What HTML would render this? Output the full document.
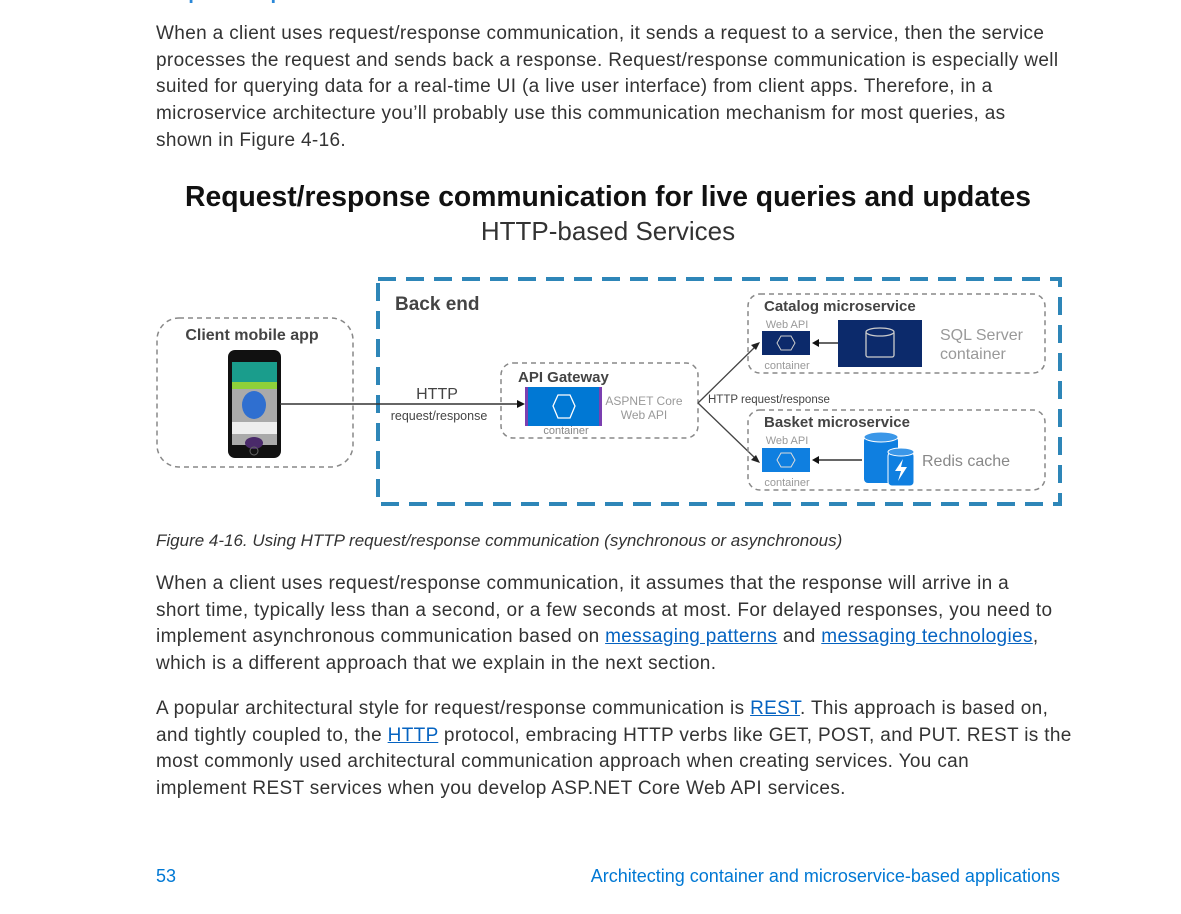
<!DOCTYPE html>
<html><head><meta charset="utf-8"><style>
body{margin:0;width:1181px;height:914px;background:#fff;position:relative;overflow:hidden;font-family:"Liberation Sans",sans-serif;color:#333}
.t{position:absolute;left:156px;font-size:19px;line-height:26.7px;white-space:nowrap;letter-spacing:0.35px}
a{color:#0563c1;text-decoration:underline}
.h{position:absolute;left:156px;top:-18px;font-size:20px;font-weight:bold;color:#2b88d8}
</style></head><body>
<div class="h">Request/response communication with HTTP and REST</div>
<div class="t" style="top:21px">When a client uses request/response communication, it sends a request to a service, then the service<br>processes the request and sends back a response. Request/response communication is especially well<br>suited for querying data for a real-time UI (a live user interface) from client apps. Therefore, in a<br>microservice architecture you’ll probably use this communication mechanism for most queries, as<br>shown in Figure 4-16.</div>

<svg style="position:absolute;left:0;top:0" width="1181" height="914">
<text x="608" y="206" text-anchor="middle" font-size="28.3" font-weight="bold" fill="#111" font-family="Liberation Sans">Request/response communication for live queries and updates</text>
<text x="608" y="240" text-anchor="middle" font-size="26" fill="#333" font-family="Liberation Sans">HTTP-based Services</text>
<rect x="378" y="279" width="682" height="225" fill="none" stroke="#2e86b8" stroke-width="4" stroke-dasharray="18,10"/>
<text x="395" y="310" font-size="19" font-weight="bold" fill="#444" font-family="Liberation Sans">Back end</text>
<rect x="157" y="318" width="196" height="149" rx="22" fill="none" stroke="#888" stroke-width="1.5" stroke-dasharray="5,4"/>
<text x="252" y="340" text-anchor="middle" font-size="16" font-weight="bold" fill="#444" font-family="Liberation Sans">Client mobile app</text>
<rect x="228" y="350" width="53" height="108" rx="7" fill="#111"/>
<rect x="232" y="362" width="45" height="83" fill="#aaa"/>
<rect x="232" y="362" width="45" height="20" fill="#1a9d8c"/>
<rect x="232" y="382" width="45" height="7" fill="#8fd13a"/>
<ellipse cx="254" cy="405" rx="12" ry="14" fill="#2f6fd0"/>
<rect x="232" y="422" width="45" height="12" fill="#eee"/>
<ellipse cx="254" cy="443" rx="9" ry="6" fill="#4a2a6a"/>
<circle cx="254" cy="451" r="4" fill="none" stroke="#666"/>
<line x1="280" y1="404" x2="518" y2="404" stroke="#333" stroke-width="1.5"/>
<polygon points="525,404 517,400 517,408" fill="#111"/>
<text x="437" y="399" text-anchor="middle" font-size="16" fill="#444" font-family="Liberation Sans">HTTP</text>
<text x="439" y="420" text-anchor="middle" font-size="12.5" fill="#444" font-family="Liberation Sans">request/response</text>
<rect x="501" y="363" width="197" height="75" rx="12" fill="none" stroke="#888" stroke-width="1.5" stroke-dasharray="5,4"/>
<text x="518" y="382" font-size="15" font-weight="bold" fill="#444" font-family="Liberation Sans">API Gateway</text>
<rect x="527" y="387" width="73" height="39" fill="#0078d4"/>
<rect x="525" y="387" width="3" height="39" fill="#7b3fb0"/><rect x="599" y="387" width="3" height="39" fill="#7b3fb0"/>
<polygon points="553,406 558,395 570,395 575,406 570,418 558,418" fill="none" stroke="#fff" stroke-width="1.3"/>
<text x="566" y="434" text-anchor="middle" font-size="11" fill="#888" font-family="Liberation Sans">container</text>
<text x="644" y="405" text-anchor="middle" font-size="12" fill="#999" font-family="Liberation Sans">ASPNET Core</text>
<text x="644" y="419" text-anchor="middle" font-size="12" fill="#999" font-family="Liberation Sans">Web API</text>
<line x1="698" y1="403" x2="756" y2="346" stroke="#444" stroke-width="1.3"/>
<polygon points="760,342 751,345 756,350" fill="#222"/>
<line x1="698" y1="403" x2="756" y2="459" stroke="#444" stroke-width="1.3"/>
<polygon points="760,463 751,460 756,455" fill="#222"/>
<text x="708" y="403" font-size="11.5" fill="#444" font-family="Liberation Sans">HTTP request/response</text>
<rect x="748" y="294" width="297" height="79" rx="12" fill="none" stroke="#888" stroke-width="1.5" stroke-dasharray="5,4"/>
<text x="764" y="311" font-size="15" font-weight="bold" fill="#444" font-family="Liberation Sans">Catalog microservice</text>
<text x="787" y="328" text-anchor="middle" font-size="11" fill="#999" font-family="Liberation Sans">Web API</text>
<rect x="762" y="331" width="48" height="24" fill="#0c2a6b"/>
<polygon points="777,343 781,336 791,336 795,343 791,350 781,350" fill="none" stroke="#ccc"/>
<text x="787" y="369" text-anchor="middle" font-size="11" fill="#999" font-family="Liberation Sans">container</text>
<line x1="838" y1="343" x2="818" y2="343" stroke="#333" stroke-width="1.5"/>
<polygon points="812,343 819,339 819,347" fill="#111"/>
<rect x="838" y="320" width="84" height="47" fill="#0c2a6b"/>
<rect x="866" y="331" width="28" height="26" rx="2" fill="none" stroke="#ccc" stroke-width="1.3"/>
<ellipse cx="880" cy="332" rx="14" ry="4" fill="#0c2a6b" stroke="#ccc" stroke-width="1.3"/>
<text x="940" y="340" font-size="16" fill="#999" font-family="Liberation Sans">SQL Server</text>
<text x="940" y="359" font-size="16" fill="#999" font-family="Liberation Sans">container</text>
<rect x="748" y="410" width="297" height="80" rx="12" fill="none" stroke="#888" stroke-width="1.5" stroke-dasharray="5,4"/>
<text x="764" y="427" font-size="15" font-weight="bold" fill="#444" font-family="Liberation Sans">Basket microservice</text>
<text x="787" y="444" text-anchor="middle" font-size="11" fill="#999" font-family="Liberation Sans">Web API</text>
<rect x="762" y="448" width="48" height="24" fill="#0f7fe0"/>
<polygon points="777,460 781,453 791,453 795,460 791,467 781,467" fill="none" stroke="#ddd"/>
<text x="787" y="486" text-anchor="middle" font-size="11" fill="#999" font-family="Liberation Sans">container</text>
<line x1="862" y1="460" x2="818" y2="460" stroke="#333" stroke-width="1.5"/>
<polygon points="812,460 819,456 819,464" fill="#111"/>
<rect x="864" y="437" width="34" height="46" rx="4" fill="#0f7fe0"/>
<ellipse cx="881" cy="437" rx="17" ry="5" fill="#3b97e8" stroke="#fff"/>
<rect x="888" y="452" width="26" height="34" rx="4" fill="#0f7fe0" stroke="#fff"/>
<ellipse cx="901" cy="452" rx="13" ry="4" fill="#3b97e8" stroke="#fff"/>
<polygon points="903,459 895,471 901,471 898,481 907,467 901,467" fill="#fff"/>
<text x="922" y="466" font-size="16" fill="#888" font-family="Liberation Sans">Redis cache</text>
</svg>

<div class="t" style="top:528px;font-size:17px;letter-spacing:0;font-style:italic">Figure 4-16. Using HTTP request/response communication (synchronous or asynchronous)</div>
<div class="t" style="top:571px">When a client uses request/response communication, it assumes that the response will arrive in a<br>short time, typically less than a second, or a few seconds at most. For delayed responses, you need to<br>implement asynchronous communication based on <a>messaging patterns</a> and <a>messaging technologies</a>,<br>which is a different approach that we explain in the next section.</div>
<div class="t" style="top:696px">A popular architectural style for request/response communication is <a>REST</a>. This approach is based on,<br>and tightly coupled to, the <a>HTTP</a> protocol, embracing HTTP verbs like GET, POST, and PUT. REST is the<br>most commonly used architectural communication approach when creating services. You can<br>implement REST services when you develop ASP.NET Core Web API services.</div>
<div class="t" style="top:863px;font-size:18px;letter-spacing:0;color:#0078d4">53</div>
<div class="t" style="top:863px;left:auto;right:121px;font-size:18px;letter-spacing:0;color:#0078d4">Architecting container and microservice-based applications</div>
</body></html>
